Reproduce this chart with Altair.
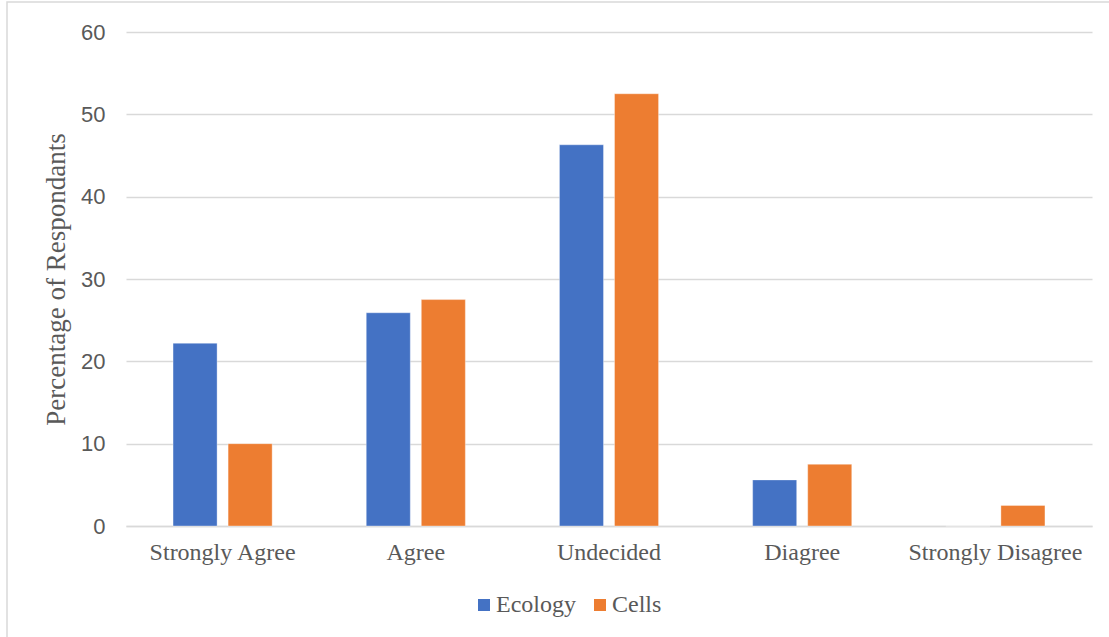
import altair as alt
import pandas as pd

# Survey responses by module (percentage of respondents)
categories = ["Strongly Agree", "Agree", "Undecided", "Diagree", "Strongly Disagree"]
ecology = [22.2, 25.9, 46.3, 5.6, 0.0]
cells = [10.0, 27.5, 52.5, 7.5, 2.5]
series = ["Ecology", "Cells"]
colors = ["#4472C4", "#ED7D31"]
y_ticks = [0, 10, 20, 30, 40, 50, 60]

rows = []
for i, cat in enumerate(categories):
    rows.append({"Response": cat, "Group": "Ecology", "Value": ecology[i]})
    rows.append({"Response": cat, "Group": "Cells", "Value": cells[i]})
df = pd.DataFrame(rows)

SERIF = "Liberation Serif"
SANS = "Liberation Sans"
GREY_TEXT = "#595959"
GRID = "#d9d9d9"

W, H = 966, 494
PAD_L, PAD_T = 126, 32

bars = alt.Chart(df).mark_bar(stroke="white", strokeWidth=0.6, strokeOpacity=0.6).encode(
    x=alt.X(
        "Response:N",
        sort=categories,
        scale=alt.Scale(paddingInner=0.487, paddingOuter=0.2435),
        axis=alt.Axis(
            title=None,
            labelAngle=0,
            labelFont=SERIF,
            labelFontSize=24,
            labelColor=GREY_TEXT,
            labelPadding=14,
            ticks=False,
            grid=False,
            domainColor=GRID,
            domainWidth=1.3,
        ),
    ),
    xOffset=alt.XOffset(
        "Group:N", sort=series, scale=alt.Scale(paddingInner=0.2, paddingOuter=0)
    ),
    y=alt.Y(
        "Value:Q",
        scale=alt.Scale(domain=[0, 60], nice=False),
        axis=alt.Axis(
            title="Percentage of Respondants",
            titleFont=SERIF,
            titleFontSize=27,
            titleFontWeight="normal",
            titleColor=GREY_TEXT,
            titlePadding=10,
            values=y_ticks,
            labelFont=SANS,
            labelFontSize=22,
            labelColor=GREY_TEXT,
            labelPadding=21,
            ticks=False,
            domain=False,
            gridColor=GRID,
            gridWidth=1.3,
        ),
    ),
    color=alt.Color(
        "Group:N",
        sort=series,
        scale=alt.Scale(domain=series, range=colors),
        legend=alt.Legend(
            title=None,
            orient="none",
            direction="horizontal",
            legendX=346,
            legendY=561,
            symbolType="square",
            symbolSize=144,
            symbolStrokeWidth=0,
            labelFont=SERIF,
            labelFontSize=24,
            labelColor=GREY_TEXT,
            labelOffset=0,
            columnPadding=12,
            padding=0,
        ),
    ),
)

# Thin outer frame around the whole figure
frame = alt.Chart(pd.DataFrame({"f": [0]})).mark_rect(
    fillOpacity=0, stroke=GRID, strokeWidth=1.5
).encode(
    x=alt.value(-119),
    x2=alt.value(1109 - PAD_L + 10),
    y=alt.value(-30),
    y2=alt.value(637 - PAD_T + 10),
)

chart = (
    alt.layer(frame, bars)
    .properties(
        width=W,
        height=H,
        background="white",
        padding={"left": PAD_L, "top": PAD_T, "right": 1109 - PAD_L - W, "bottom": 637 - PAD_T - H},
        autosize=alt.AutoSizeParams(type="none"),
    )
    .configure_view(stroke=None)
    .configure_legend(labelFont=SERIF, labelFontSize=24, labelColor=GREY_TEXT)
)

chart.save("out.html", embed_options={"renderer": "svg", "actions": False})
